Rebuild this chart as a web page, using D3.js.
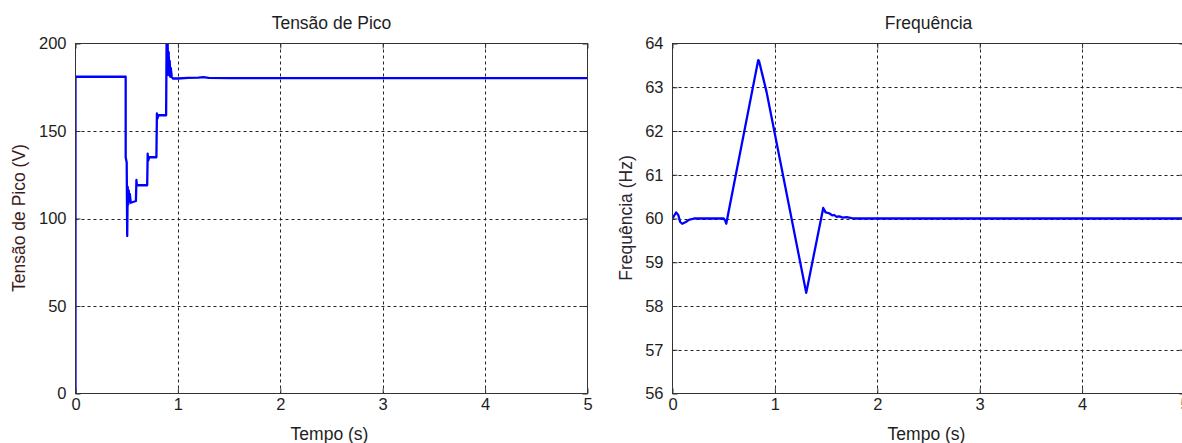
<!DOCTYPE html>
<html>
<head>
<meta charset="utf-8">
<script src="https://cdn.jsdelivr.net/npm/d3@7"></script>
<style>
  html, body { margin: 0; padding: 0; background: #fff; }
  svg { display: block; font-family: "Liberation Sans", Arial, sans-serif; }
</style>
</head>
<body>
<svg id="fig" width="1182" height="443"></svg>
<script>
// Peak voltage (V) over time (s)
const tempoTensao = [0, 0, 0.49, 0.49, 0.50, 0.505, 0.51, 0.515, 0.52, 0.525, 0.53, 0.54, 0.59, 0.595, 0.60, 0.70, 0.705, 0.71, 0.72, 0.79, 0.795, 0.80, 0.81, 0.885, 0.89, 0.895, 0.90, 0.905, 0.91, 0.915, 0.92, 0.925, 0.93, 0.94, 0.95, 1.0, 1.1, 1.2, 1.25, 1.3, 1.5, 5];
const tensaoPico  = [0, 181, 181, 135, 132, 90, 118, 108, 116, 110, 114, 109, 110, 122, 119, 119, 137, 133, 135, 135, 160, 157, 159, 159, 205, 185, 200, 182, 195, 183, 190, 181, 186, 181, 180, 180, 180.3, 180.5, 180.8, 180.4, 180.2, 180.2];

// Frequency (Hz) over time (s)
const tempoFreq  = [0, 0.02, 0.036, 0.058, 0.075, 0.095, 0.13, 0.16, 0.21, 0.50, 0.515, 0.525, 0.535, 0.837, 0.845, 0.918, 1.306, 1.472, 1.495, 1.53, 1.56, 1.58, 1.60, 1.63, 1.66, 1.70, 1.75, 1.80, 5];
const frequencia = [60.0, 60.08, 60.14, 60.07, 59.92, 59.88, 59.92, 59.97, 60.0, 60.0, 59.95, 59.88, 60.0, 63.62, 63.6, 62.9, 58.3, 60.24, 60.14, 60.12, 60.07, 60.08, 60.04, 60.05, 60.02, 60.03, 60.01, 60.0, 60.0];

// Tick values
const ticksTempo = [0, 1, 2, 3, 4, 5];
const ticksTensao = [0, 50, 100, 150, 200];
const ticksFreq = [56, 57, 58, 59, 60, 61, 62, 63, 64];

const svg = d3.select("#fig");
const frameColor = "#333";
const textColor = "#1e1e1e";

function drawPanel(cfg) {
  const x = d3.scaleLinear().domain([0, 5]).range([cfg.left, cfg.left + 512]);
  const y = d3.scaleLinear().domain(cfg.yDomain).range([393.5, 43.5]);
  const g = svg.append("g");

  // dotted grid
  const grid = g.append("g").attr("stroke", "#222").attr("stroke-width", 1)
    .attr("stroke-dasharray", "3,3").attr("fill", "none");
  grid.selectAll("line.gx").data(cfg.xTicks.slice(1, -1)).join("line")
    .attr("x1", d => Math.round(x(d)) + 0.5).attr("x2", d => Math.round(x(d)) + 0.5)
    .attr("y1", y.range()[1]).attr("y2", y.range()[0]);
  grid.selectAll("line.gy").data(cfg.yTicks.slice(1, -1)).join("line")
    .attr("x1", x.range()[0]).attr("x2", x.range()[1])
    .attr("y1", d => Math.round(y(d)) + 0.5).attr("y2", d => Math.round(y(d)) + 0.5);

  // data line, clipped to the axes box
  const clipId = "clip-" + cfg.id;
  svg.append("defs").append("clipPath").attr("id", clipId).append("rect")
    .attr("x", x.range()[0]).attr("y", y.range()[1])
    .attr("width", x.range()[1] - x.range()[0]).attr("height", y.range()[0] - y.range()[1]);
  const line = d3.line().x(i => x(cfg.t[i])).y(i => y(cfg.v[i]));
  g.append("path").attr("clip-path", `url(#${clipId})`)
    .attr("d", line(d3.range(cfg.t.length)))
    .attr("fill", "none").attr("stroke", "#0000ff").attr("stroke-width", 2.3)
    .attr("stroke-linejoin", "round");

  // axes (ticks pointing inward on all four sides)
  const styleAxis = sel => {
    sel.select(".domain").remove();
    sel.selectAll(".tick line").attr("stroke", frameColor);
    sel.selectAll("text").attr("fill", textColor).style("font-size", "16.5px")
      .style("font-family", '"Liberation Sans", Arial, sans-serif');
  };
  g.append("g").attr("transform", `translate(0,${y.range()[0]})`)
    .call(d3.axisBottom(x).tickValues(cfg.xTicks).tickFormat(d3.format("d"))
      .tickSizeInner(-5).tickSizeOuter(0).tickPadding(5))
    .call(styleAxis);
  g.append("g").attr("transform", `translate(0,${y.range()[1]})`)
    .call(d3.axisTop(x).tickValues(cfg.xTicks).tickFormat("")
      .tickSizeInner(-5).tickSizeOuter(0))
    .call(styleAxis);
  g.append("g").attr("transform", `translate(${x.range()[0]},0)`)
    .call(d3.axisLeft(y).tickValues(cfg.yTicks).tickFormat(d3.format("d"))
      .tickSizeInner(-5).tickSizeOuter(0).tickPadding(9))
    .call(styleAxis);
  g.append("g").attr("transform", `translate(${x.range()[1]},0)`)
    .call(d3.axisRight(y).tickValues(cfg.yTicks).tickFormat("")
      .tickSizeInner(-5).tickSizeOuter(0))
    .call(styleAxis);

  // box
  g.append("rect")
    .attr("x", x.range()[0]).attr("y", y.range()[1])
    .attr("width", x.range()[1] - x.range()[0]).attr("height", y.range()[0] - y.range()[1])
    .attr("fill", "none").attr("stroke", frameColor).attr("stroke-width", 1);

  const cx = (x.range()[0] + x.range()[1]) / 2;
  // title
  g.append("text").attr("x", cx).attr("y", 28.5).attr("text-anchor", "middle")
    .attr("fill", textColor).style("font-size", "17.5px").text(cfg.title);
  // x label
  g.append("text").attr("x", cx - 2).attr("y", 439.5).attr("text-anchor", "middle")
    .attr("fill", textColor).style("font-size", "17.5px").text("Tempo (s)");
  // y label
  g.append("text").attr("transform", `translate(${cfg.yLabelX},218) rotate(-90)`)
    .attr("text-anchor", "middle").attr("fill", cfg.yLabelColor)
    .style("font-size", "17.5px").text(cfg.yLabel);
}

drawPanel({
  id: "tensao", left: 75.5, yDomain: [0, 200],
  xTicks: ticksTempo, yTicks: ticksTensao,
  t: tempoTensao, v: tensaoPico,
  title: "Tensão de Pico", yLabel: "Tensão de Pico (V)",
  yLabelX: 25, yLabelColor: "#3e1c1c"
});

drawPanel({
  id: "freq", left: 672.5, yDomain: [56, 64],
  xTicks: ticksTempo, yTicks: ticksFreq,
  t: tempoFreq, v: frequencia,
  title: "Frequência", yLabel: "Frequência (Hz)",
  yLabelX: 632, yLabelColor: "#2e2530"
});
</script>
</body>
</html>
